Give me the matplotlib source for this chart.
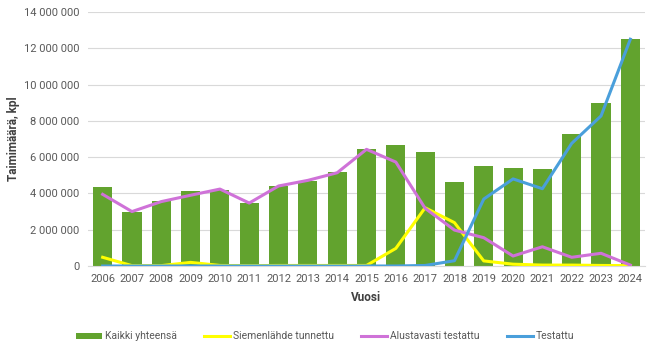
import matplotlib.pyplot as plt
from matplotlib.ticker import FuncFormatter

plt.rcParams['font.family'] = ['Roboto', 'DejaVu Sans']

years = [str(y) for y in range(2006, 2025)]

kaikki = [4.37, 2.99, 3.57, 4.13, 4.21, 3.47, 4.39, 4.67, 5.16, 6.43,
          6.67, 6.30, 4.63, 5.53, 5.42, 5.35, 7.26, 8.97, 12.51]
siemen = [0.48, 0.02, 0.02, 0.20, 0.03, 0.02, 0.03, 0.03, 0.03, 0.03,
          0.97, 3.21, 2.39, 0.28, 0.10, 0.05, 0.05, 0.03, 0.02]
alustava = [3.95, 3.00, 3.55, 3.90, 4.24, 3.47, 4.41, 4.72, 5.14, 6.43,
            5.73, 3.18, 1.98, 1.56, 0.55, 1.06, 0.48, 0.70, 0.05]
testattu = [0, 0, 0, 0, 0, 0, 0, 0, 0, 0,
            0, 0.03, 0.29, 3.69, 4.80, 4.26, 6.76, 8.27, 12.50]

green = "#62a32e"
yellow = "#ffff00"
purple = "#cf72d8"
blue = "#4a9fdb"
tick_gray = "#595959"


def scale(vals):
    return [v * 1e6 for v in vals]


fig = plt.figure(figsize=(6.5, 3.49), dpi=100)
ax = fig.add_axes([88 / 650, 1 - 266 / 349, 557 / 650, 254 / 349])

x = range(len(years))
bars = ax.bar(x, scale(kaikki), width=0.65, color=green, label="Kaikki yhteensä", zorder=2)
l1, = ax.plot(x, scale(siemen), color=yellow, linewidth=2.2, label="Siemenlähde tunnettu", zorder=3)
l2, = ax.plot(x, scale(alustava), color=purple, linewidth=2.2, label="Alustavasti testattu", zorder=3)
l3, = ax.plot(x, scale(testattu), color=blue, linewidth=2.2, label="Testattu", zorder=4)

ax.set_xlim(-0.5, len(years) - 0.5)
ax.set_ylim(0, 14e6)
ax.set_yticks([i * 2e6 for i in range(8)])
ax.yaxis.set_major_formatter(FuncFormatter(lambda v, p: f"{int(v):,}".replace(",", " ")))
ax.set_xticks(list(x))
ax.set_xticklabels(years)

ax.grid(axis='y', color="#d9d9d9", linewidth=0.8, zorder=0)
ax.set_axisbelow(True)
for s in ['top', 'right', 'left']:
    ax.spines[s].set_visible(False)
ax.spines['bottom'].set_color("#d9d9d9")
ax.tick_params(axis='both', length=0, labelsize=8, colors=tick_gray, pad=6)

ax.set_xlabel("Vuosi", fontsize=8.5, fontweight='bold', color="#404040", labelpad=5)
ax.set_ylabel("Taimimäärä, kpl", fontsize=8.5, fontweight='bold', color="#404040", labelpad=3)

leg = fig.legend([bars, l1, l2, l3],
                 ["Kaikki yhteensä", "Siemenlähde tunnettu", "Alustavasti testattu", "Testattu"],
                 loc='lower center', bbox_to_anchor=(0.5, -0.005), ncol=4, frameon=False,
                 fontsize=7.5, handlelength=2.5, handleheight=0.5, columnspacing=2.6,
                 labelcolor=tick_gray, handletextpad=0.3)

plt.savefig("out.png", dpi=100)
